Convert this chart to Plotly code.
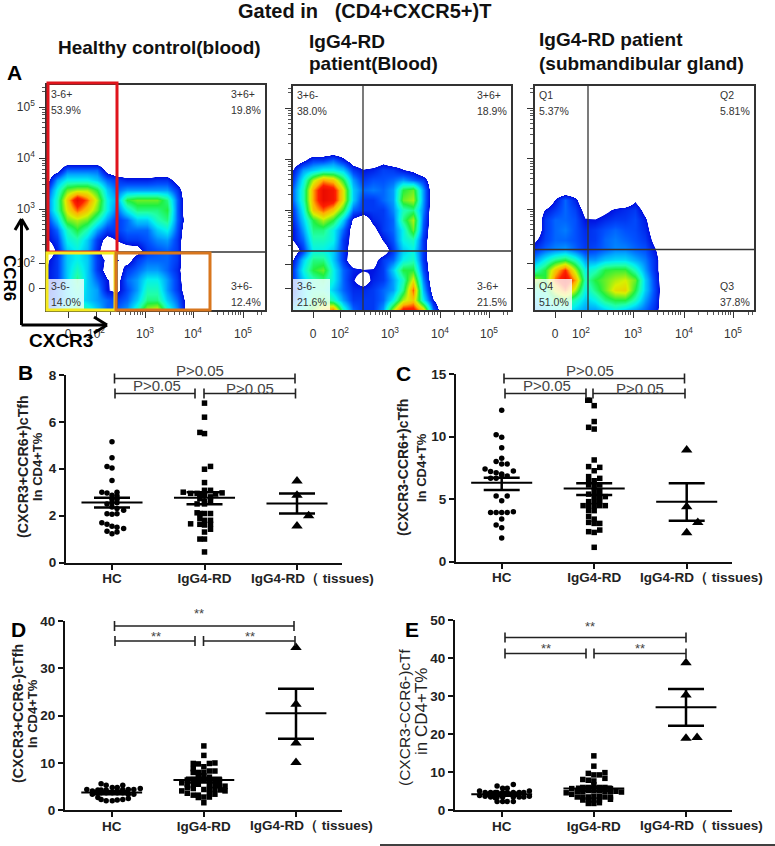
import plotly.graph_objects as go

W, H = 775, 846
FONT = "Liberation Sans"

# ---------- Panel A: density (row 0 = bottom of plot, 10 px cells) ----------
FLOW_A1 = [
 [1.5,2.5,4,5,4,3,2,2,2.5,4,6,6.5,4,2.5,0.5],
 [1.5,2,3,3.5,3,2.5,2,1.5,2,3,4.5,4.5,3,2,0.5],
 [1,2,3,4,3,2.5,1,0.7,1.7,2.5,4,4,2.5,1.5,0.3],
 [1,1.5,3,4.5,3,2,1,0.5,2,2.5,3.5,3.5,2.5,1.5,0],
 [1,1.5,3,4,3,1.5,0.5,0.2,1.5,2,2.5,2.5,2,1.3,0],
 [0.8,1.5,3,3.5,3,1.5,0.7,1,0.5,1.5,2,2,2,1.5,0],
 [0,1.2,3,3.5,2.8,1.3,0,0,0.3,0.5,1.5,1.8,2,1.5,0],
 [0.8,1.5,3.5,4,3,1.5,0.5,1,1.5,1.5,1.8,2.3,2.5,1.5,0],
 [1,2,4,5,4,2.5,1.5,1.5,2,2,2,3,3.5,1.8,0],
 [1.5,3,5.5,6,5.5,4,2.5,1.5,2,3,3,4,4.5,2,0.3],
 [2,4,6.5,8,7,5.5,3.5,2,3.5,4.5,4.5,4.5,5,2,0],
 [2,4,7,9.5,8,6,3.5,2.5,5,5.5,5.5,5.5,4.5,2,0],
 [1.5,3.5,5.5,6,6,5,3,2,2.5,2.5,2.5,2.5,2.5,1.5,0],
 [0.5,2.5,3.5,3.5,3.5,3,2,1.5,1.2,1.2,1.2,1.4,1.4,0.5,0],
 [0,0.5,2,2,2,2,0.5,0,0,0,0,0,0,0,0],
 [0,0,0,0,0,0,0,0,0,0,0,0,0,0,0],
]
FLOW_A2 = [
 [3,4,5.5,7,8,4,2,1.5,1.5,2.5,6,9,9,7,2],
 [2,3,4.5,5,4,2.5,1.5,1.5,1.5,2,3.5,6,7,3.5,1],
 [1.5,3,4,4,3,2,1.3,1.3,1.5,2,2.5,4.5,8,2.8,0.3],
 [1.5,3,4,4.5,3.5,2,1,0.3,1.2,1.5,2.5,4,6.5,2.3,0],
 [1.5,3.5,5,5.5,3.5,2,1.2,1,1,1.5,3,5,5,1.8,0],
 [1,3,4.5,4.5,3,1.5,0,0,0.5,1.5,2,3.5,4,1.5,0],
 [0,1.5,3.5,3.5,3,1.5,0.2,0,0,0.2,1.5,3,3.5,1.5,0],
 [1,2,4,4,3.5,1.5,0.5,0,0,1,1.8,3.5,4,1.5,0],
 [1,2.5,4.5,4.5,3.5,2,0.3,0,0.6,1.5,2,3.5,5.5,1.8,0],
 [1.3,3,5,6,5,3,0.7,0.2,1.2,1.5,2,4.5,6,2,0],
 [1.5,3.5,7,8,7,5,2,1.5,1.5,1.5,2.3,4,4.5,2.3,0],
 [2,4,7.5,9.5,9,6.5,3,1.5,1.5,2,2.5,5.5,6,2.5,0],
 [2,4,7.5,9.5,9,6.5,3,2,2.2,2,2.5,5,5.5,2.5,0],
 [1.5,3.5,6,7.5,7,5,2.5,1.5,1.8,1.8,2,2.5,2,1.5,0],
 [1,2.5,3,3.5,3.5,3,1.5,1,1.2,1.6,1.5,1,0.7,0,0],
 [0,0.7,1.5,1.5,2,1.2,0.3,0,0,0.5,0,0,0,0,0],
 [0,0,0,0,0,0,0,0,0,0,0,0,0,0,0],
]
FLOW_A3 = [
 [2.5,3,3.5,3.5,3,2.5,2.5,3,3.5,3,2.5,2,1.3,0],
 [3,3.5,4.5,5,4,3,3.5,4.5,5,5,4,2.5,1.5,0],
 [4,4,6.5,8,6,3.5,4.5,5.5,6.6,6.8,5,3,1.6,0],
 [6,5,8,9.5,7.5,4,5,5.5,6,6.3,5.5,3,1.5,0],
 [4,5,7,8.5,6,3.5,4,5,5.2,5.2,4,2.5,1.3,0],
 [2.5,3.5,4.5,5,4,2.5,2.5,3,3.2,3.2,2.7,2.2,1.3,0],
 [1.5,2,2.3,2.5,2,1.5,1.7,2,2.3,2.3,2,1.8,1,0],
 [0.8,1.6,2,2,1.8,1.4,1.5,2,2.2,2,1.8,1.5,0.6,0],
 [0,1.5,2,2.2,1.8,1.3,1.5,1.8,2,1.8,1.7,1.3,0.3,0],
 [0,1.5,2,2,1.8,1,1,1.3,1.5,1.5,1.7,1.1,0,0],
 [0,1,1.5,2,1.6,0.6,0.3,0.7,1.1,1.3,1.5,0.6,0,0],
 [0,0,1,2,1.2,0,0,0,0,0,0.8,0,0,0],
 [0,0,0,0,0,0,0,0,0,0,0,0,0,0],
]
FLOW_LABELS_A1 = ["3-6+", "53.9%", "3+6+", "19.8%", "3-6-", "14.0%", "3+6-", "12.4%"]
FLOW_LABELS_A2 = ["3+6-", "38.0%", "3+6+", "18.9%", "3-6-", "21.6%", "3-6+", "21.5%"]
FLOW_LABELS_A3 = ["Q1", "5.37%", "Q2", "5.81%", "Q4", "51.0%", "Q3", "37.8%"]
FLOW_TICK_TEXT = ["0", "10<sup>2</sup>", "10<sup>3</sup>", "10<sup>4</sup>", "10<sup>5</sup>"]

# ---------- Panels B-E ----------
CATEGORIES = ["HC", "IgG4-RD", "IgG4-RD\uff08 tissues)"]

B_HC_X = [1,1,.946,1,1,.89,.946,1.054,1,1.054,1,1.054,.946,1,1.054,1,1.126,1.054,.946,1,1.054,.89,.946,1,1.054,1.126,.946,1.054,1]
B_HC_Y = [5.15,4.47,4.1,4.03,3.5,3.0,2.97,3.0,2.87,2.85,2.7,2.7,2.5,2.55,2.55,2.37,2.23,2.3,2.08,2.06,2.08,1.7,1.63,1.55,1.5,1.45,1.33,1.3,1.23]
B_RD_X = [2,2,1.95,2,2,2.065,2,1.77,1.85,1.92,1.95,2,2.065,2.12,2.19,2,2.065,1.95,2,1.92,2.065,2,1.92,1.95,2,2.065,1.95,2,2.065,1.85,1.95,2,2.065,2.065,2,1.95,2,2]
B_RD_Y = [6.8,6.2,5.55,5.5,3.98,4.1,3.41,3.0,2.95,2.95,2.92,3.08,3.08,2.92,2.97,2.87,2.8,2.73,2.6,2.5,2.6,2.5,2.12,2.09,2.09,2.09,1.88,1.8,1.8,1.65,1.63,1.6,1.63,1.42,1.3,1.0,1.0,0.45]
B_TI_X = [3,3,3.126,3]
B_TI_Y = [3.48,2.87,1.99,1.56]
B_MEAN = [2.56,2.76,2.52]
B_UP = [2.76,3.0,2.94]
B_LO = [2.35,2.49,2.09]

C_HC_X = [1,.94,1,1,1,.94,1,1.06,.82,.88,.94,1,1.126,1,.94,.88,1.06,.94,1.06,1,.88,.94,1,1.06,1.126,1,.94,1,1]
C_HC_Y = [12.1,10.15,9.95,9.1,8.26,8,7.8,7.8,7.4,7.2,7.1,7.0,7.25,6.93,6.66,6.66,6.85,5.25,5.25,4.88,3.94,3.94,3.94,3.94,4.0,3.41,2.93,2.72,1.89]
C_RD_X = [1.93,1.95,2,2,1.94,2,2,1.94,2.06,2,1.94,2.06,2,1.94,1.94,2.06,2,2,2.06,1.94,2.12,2.06,2,1.94,2,2.06,1.88,1.94,2,2.06,2.12,2,1.94,1.94,2,1.94,2,2.06,1.94,2,2.06,2]
C_RD_Y = [12.9,12.9,12.47,11.2,10.74,10.6,8.13,7.6,7.54,7.27,6.8,6.66,6.47,6.4,6.13,6.13,6,5.6,5.6,5.4,5.2,5.2,5.2,4.8,4.8,4.8,4.48,4.48,4.48,4.48,4.48,4.08,4.08,3.6,3.4,3.14,3.06,3.06,2.4,2.34,2.53,1.15]
C_TI_X = [3,3,3.12,3]
C_TI_Y = [8.93,4.4,3.14,2.32]
C_MEAN = [6.3,5.85,4.8]
C_UP = [6.7,6.26,6.26]
C_LO = [5.73,5.33,3.28]

D_HC_X = [.885,.94,1.12,1.006,1.06,.73,.79,.85,.885,.94,1.06,1.12,1.18,1.24,1.31,.79,.85,.885,.94,1.006,1.06,1.12,1.18,1.24,.85,.885,.94,1.006,1.06,1.12,1.18]
D_HC_Y = [5.6,5.3,5.3,4.8,4.8,4.4,4.1,4.3,4.3,4.3,4.1,4.4,4.4,4.4,4.6,3.4,3.6,3.7,3.7,3.7,3.7,3.7,3.4,3.4,2.7,2.3,2,2,2.2,2.3,2.5]
D_RD_X = [2,2,1.885,1.94,2.06,2.12,1.885,2,2.12,1.885,1.94,2,2.06,2,2.06,1.94,1.885,1.82,1.94,2,2.06,2.12,2.17,1.76,1.82,1.885,1.94,2.06,2.12,2.17,2.23,1.76,1.82,1.885,2.12,2.18,2.23,1.82,1.885,1.94,2,2.06,2.12,2,2.06,1.94,2.06,2]
D_RD_Y = [13.6,11.6,9.9,9.8,9.9,10,8.8,9.2,8.3,8,8,8,8.3,7.3,7,7,6.5,6.4,6.4,6.4,6.4,6.4,6.4,5.8,5.5,5.2,5.5,5.5,5.2,5.2,5.1,4.1,4.8,4.6,4.4,4.3,4.1,3.6,3.2,3.2,4.4,4.4,3.4,2.8,2.8,2.7,3.7,1.6]
D_TI_X = [3,3,3,3]
D_TI_Y = [34.4,22.4,14.2,10.1]
D_MEAN = [3.75,6.4,20.5]
D_UP = [4.1,6.9,25.7]
D_LO = [3.4,5.85,15.1]

E_HC_X = [.95,1.01,1.06,1.126,.76,.82,.88,.93,.95,1.01,1.06,1.126,1.19,1.24,1.3,.76,.82,.88,.93,.95,1.01,1.126,1.19,1.24,1.3,.95,1.01,1.06,1.126]
E_HC_Y = [6.4,5.8,5.8,6.8,5.1,4.7,4.7,4.7,4.7,4.7,4.7,4.7,4.7,4.7,5.1,3.9,3.7,3.5,3.3,3.5,3.5,3.5,3.5,3.5,3.7,2.3,2.3,2.3,2.3]
E_RD_X = [2,2,1.94,2,2.06,2.12,1.88,1.94,2,2.12,2,1.88,1.94,2.06,2.12,2.18,1.76,1.7,1.76,1.82,1.88,1.94,2,2.06,2.12,2.18,2.24,2.3,1.82,1.88,1.94,2,2.06,2.12,2.18,1.88,1.94,2,2.06,2.18,1.94,2,2.06]
E_RD_Y = [14.3,11.6,9.7,9.3,9.3,9.9,8.1,7.9,7.7,8.4,6.7,6,6,6,6,5.7,5.7,4.6,4.2,5,5,5.2,5.2,5.2,5,5,5,4.8,3.5,3.5,3.5,3.7,3.7,3.5,3.5,2.7,2.7,2.7,2.7,2.9,1.8,1.8,2]
E_TI_X = [3,3,3,3.12]
E_TI_Y = [38.8,30.3,18.9,19.1]
E_MEAN = [4.2,5.7,27.1]
E_UP = [4.6,6.2,31.9]
E_LO = [3.8,5.1,22.2]

JET = [
 [0,"#ffffff"],[0.09,"#ffffff"],[0.095,"#0010e0"],[0.18,"#0050ff"],[0.26,"#00a8ff"],
 [0.34,"#00f0f0"],[0.42,"#20ffa8"],[0.5,"#20f040"],[0.63,"#d8f000"],[0.74,"#ffb000"],
 [0.85,"#ff2000"],[1,"#e00000"],
]

def px_x(v): return v / W
def px_y(v): return 1 - v / H

fig = go.Figure()
shapes, annotations = [], []

def text(x, y, s, size, bold=False, color="#111111", angle=0, anchor="center"):
    annotations.append(dict(xref="paper", yref="paper", x=px_x(x), y=px_y(y),
        text=f"<b>{s}</b>" if bold else s, showarrow=False, xanchor=anchor, yanchor="middle",
        textangle=angle, font=dict(family=FONT, size=size, color=color)))

def line(x0, y0, x1, y1, color="#000000", width=2):
    shapes.append(dict(type="line", xref="paper", yref="paper", x0=px_x(x0), y0=px_y(y0),
        x1=px_x(x1), y1=px_y(y1), line=dict(color=color, width=width), layer="above"))

def rect(x0, y0, x1, y1, color=None, width=3, fill=None):
    shapes.append(dict(type="rect", xref="paper", yref="paper", x0=px_x(x0), y0=px_y(y0),
        x1=px_x(x1), y1=px_y(y1), line=dict(color=color or "rgba(0,0,0,0)", width=width if color else 0),
        fillcolor=fill or "rgba(0,0,0,0)", layer="above"))

MINOR = [d + m for d in (2, 3, 4) for m in (0.30, 0.48, 0.60, 0.70, 0.78, 0.85, 0.90, 0.95)] + [5.3, 5.38]

def flow(idx, z, box, xt, yt, gate_x, gate_y, labels, ylabels=True):
    l, t, r, b = box
    xa, ya = f"xaxis{idx}", f"yaxis{idx}"
    # xt / yt: pixel positions of 0, 10^2, 10^3, 10^4, 10^5
    dx = (xt[4] - xt[2]) / 2
    dy = (yt[2] - yt[4]) / 2
    to_x = lambda p: (p - xt[2]) / dx + 3
    to_y = lambda p: (yt[2] - p) / dy + 3
    ncol, nrow = len(z[0]) + 1, len(z) + 1
    zz = [row + [0] for row in z] + [[0] * ncol]
    xs = [to_x(l + 10 * i) for i in range(ncol)]
    ys = [to_y(b - 10 * i) for i in range(nrow)]
    fig.add_trace(go.Heatmap(x=xs, y=ys, z=zz, zmin=0, zmax=10, zsmooth="best", colorscale=JET,
                             showscale=False, hoverinfo="skip", xaxis=f"x{idx}", yaxis=f"y{idx}"))
    common = dict(automargin=False, showline=True, mirror=True, linecolor="#333333", linewidth=1.5,
                  showgrid=False, zeroline=False, ticks="outside", ticklen=6, tickcolor="#333333",
                  tickwidth=1.2, tickangle=0,
                  tickfont=dict(family=FONT, size=12, color="#333333"),
                  minor=dict(tickvals=MINOR, ticks="outside", ticklen=3, tickcolor="#555555", tickwidth=1))
    layout[xa] = dict(common, domain=[px_x(l), px_x(r)], range=[to_x(l), to_x(r)], anchor=f"y{idx}",
                      ticklabelstandoff=6, tickvals=[to_x(p) for p in xt], ticktext=FLOW_TICK_TEXT)
    layout[ya] = dict(common, domain=[px_y(b), px_y(t)], range=[to_y(b), to_y(t)], anchor=f"x{idx}",
                      ticklabelstandoff=2, tickvals=[to_y(p) for p in yt], ticktext=FLOW_TICK_TEXT,
                      showticklabels=ylabels)
    rect(l, b - 31, l + 37, b, fill="rgba(255,255,255,0.78)")
    line(l, gate_y, r, gate_y, "#333333", 1.3)
    line(gate_x, t, gate_x, b, "#333333", 1.3)
    lx, rx = l + 2, r - 36
    for lab, x, y in zip(labels, [lx, lx, rx, rx, lx, lx, rx, rx],
                         [t + 9, t + 25, t + 9, t + 25, b - 24, b - 8, b - 24, b - 8]):
        text(x, y, lab, 10.5, color="#333333", anchor="left")

def dots(idx, box, cats, ymax, ydtick, series, mean, up, lo, label3_x, ticks_size=13.5):
    l, t, r, b = box
    c1, c2, c3 = cats
    step = (c3 - c1) / 2
    for (xs, ys), sym, size in zip(series, ["circle", "square", "triangle-up"], [5.5, 5.5, 10]):
        fig.add_trace(go.Scatter(x=xs, y=ys, mode="markers", hoverinfo="skip", cliponaxis=False,
            marker=dict(symbol=sym, size=size, color="#000000"), xaxis=f"x{idx}", yaxis=f"y{idx}"))
    fig.add_trace(go.Scatter(x=[1, 2, 3], y=mean, mode="markers", hoverinfo="skip",
        marker=dict(size=1, color="#000000"),
        error_x=dict(type="constant", value=0.33, width=0, thickness=2, color="#000000"),
        error_y=dict(type="data", symmetric=False,
                     array=[u - m for u, m in zip(up, mean)],
                     arrayminus=[m - d for m, d in zip(mean, lo)],
                     width=18, thickness=2.5, color="#000000"),
        xaxis=f"x{idx}", yaxis=f"y{idx}"))
    common = dict(automargin=False, showline=True, linecolor="#111111", linewidth=2, showgrid=False,
                  zeroline=False, ticks="outside", ticklen=5, tickwidth=2, tickcolor="#111111",
                  tickangle=0, tickfont=dict(family=FONT, size=ticks_size, color="#222222"))
    # the third label sits to the right of its tick, so it is placed on its own
    layout[f"xaxis{idx}"] = dict(common, domain=[px_x(l), px_x(r)], anchor=f"y{idx}",
        range=[1 + (l - c1) / step, 1 + (r - c1) / step], tickvals=[1, 2], ticklabelstandoff=-3,
        ticktext=[f"<b>{c}</b>" for c in CATEGORIES[:2]],
        minor=dict(tickvals=[3], ticks="outside", ticklen=5, tickwidth=2, tickcolor="#111111"))
    layout[f"yaxis{idx}"] = dict(common, domain=[px_y(b), px_y(t)], anchor=f"x{idx}", range=[0, ymax],
        tickvals=list(range(0, ymax + 1, ydtick)),
        ticktext=[f"<b>{v}</b>" for v in range(0, ymax + 1, ydtick)])
    text(label3_x, b + 15.5, CATEGORIES[2], ticks_size, True, "#222222")

def bracket(x0, x1, y, h=5):
    line(x0, y, x1, y, "#222222", 1.6)
    line(x0, y - h, x0, y + h, "#222222", 1.6)
    line(x1, y - h, x1, y + h, "#222222", 1.6)

layout = dict(width=W, height=H, margin=dict(l=0, r=0, t=0, b=0, autoexpand=False), showlegend=False,
              paper_bgcolor="white", plot_bgcolor="white")

flow(1, FLOW_A1, (47, 85, 265, 310), (68, 96, 145, 193, 243), (288, 263, 209, 158, 107), 117, 252, FLOW_LABELS_A1)
flow(2, FLOW_A2, (293, 86, 511, 310), (313, 340, 390, 440, 489), (288, 264, 210, 159, 108), 363, 251, FLOW_LABELS_A2, ylabels=False)
flow(3, FLOW_A3, (535, 86, 754, 310), (555, 581, 633, 684, 733), (288, 263, 209, 158, 108), 588, 249.5, FLOW_LABELS_A3, ylabels=False)

dots(4, (66, 375, 342, 562.5), (112, 204.5, 297), 8, 2,
     [(B_HC_X, B_HC_Y), (B_RD_X, B_RD_Y), (B_TI_X, B_TI_Y)], B_MEAN, B_UP, B_LO, 312)
dots(5, (456, 374, 732, 561.7), (501.7, 594, 686.7), 15, 5,
     [(C_HC_X, C_HC_Y), (C_RD_X, C_RD_Y), (C_TI_X, C_TI_Y)], C_MEAN, C_UP, C_LO, 701.7)
dots(6, (65, 621, 342, 810.3), (111.7, 204, 296), 40, 10,
     [(D_HC_X, D_HC_Y), (D_RD_X, D_RD_Y), (D_TI_X, D_TI_Y)], D_MEAN, D_UP, D_LO, 311)
dots(7, (455, 620, 732, 810.3), (501.7, 594, 686), 50, 10,
     [(E_HC_X, E_HC_Y), (E_RD_X, E_RD_Y), (E_TI_X, E_TI_Y)], E_MEAN, E_UP, E_LO, 701.7)

# coloured gates on the first plot
rect(48, 83, 117, 252, "#e0141c", 3)
rect(47, 253, 115, 310, "#f5ea20", 3)
rect(116, 253, 210, 310, "#d8761e", 3)

# CCR6 / CXCR3 arrows
line(21.5, 325, 21.5, 219, "#000000", 3)
line(21.5, 325, 107, 325, "#000000", 3)
line(15, 230, 21.5, 219, "#000000", 3)
line(28, 230, 21.5, 219, "#000000", 3)
line(94, 317, 107, 325, "#000000", 3)
line(94, 333, 107, 325, "#000000", 3)
text(9, 278, "CCR6", 17, True, "#000000", angle=90)
text(61, 340, "CXCR3", 19, True, "#000000")

# titles
text(364, 11, "Gated in&nbsp;&nbsp;&nbsp;(CD4+CXCR5+)T", 20, True)
text(56, 48, "Healthy control(blood)", 19, True, anchor="left")
text(307, 41, "IgG4-RD", 19, True, anchor="left")
text(307, 63, "patient(Blood)", 19, True, anchor="left")
text(537, 40, "IgG4-RD patient", 19, True, anchor="left")
text(537, 63, "(submandibular gland)", 19, True, anchor="left")

for s, x, y in [("A", 14, 72), ("B", 25, 372), ("C", 403, 373), ("D", 18, 629), ("E", 412, 629)]:
    text(x, y, s, 21, True, "#000000")

# y titles
text(23, 467, "(CXCR3+CCR6+)cTfh", 14.2, True, "#222222", angle=-90)
text(38, 467, "In CD4+T%", 13, True, "#222222", angle=-90)
text(403, 468, "(CXCR3-CCR6+)cTfh", 14, True, "#222222", angle=-90)
text(421, 468, "In CD4+T%", 13, True, "#222222", angle=-90)
text(18, 714, "(CXCR3+CCR6-)cTfh", 14.2, True, "#222222", angle=-90)
text(32, 714, "In CD4+T%", 13, True, "#222222", angle=-90)
text(404, 717, "(CXCR3-CCR6-)cTf", 15.5, False, "#222222", angle=-90)
text(421, 712, "in CD4+T%", 17, False, "#222222", angle=-90)

# significance brackets
bracket(114.5, 295, 378.5); bracket(115, 195, 393.5); bracket(204, 295.5, 393.5)
text(200, 370, "P&gt;0.05", 15, color="#444444")
text(157, 385, "P&gt;0.05", 15, color="#444444")
text(250, 388, "P&gt;0.05", 15, color="#444444")
bracket(504, 684.5, 378.5); bracket(505, 586, 393.5); bracket(593, 685, 393.5)
text(590, 370, "P&gt;0.05", 15, color="#444444")
text(547, 385, "P&gt;0.05", 15, color="#444444")
text(640, 388, "P&gt;0.05", 15, color="#444444")
bracket(114.5, 294, 626); bracket(115, 195, 641); bracket(203.5, 295, 641)
text(199, 613, "**", 13, color="#444444")
text(156, 636, "**", 13, color="#444444")
text(250, 636, "**", 13, color="#444444")
bracket(505, 686, 637.5); bracket(505, 586, 653.5); bracket(594, 686, 653.5)
text(590, 626, "**", 13, color="#444444")
text(546, 648, "**", 13, color="#444444")
text(640, 648, "**", 13, color="#444444")

# stray rule at the foot of the page
line(380, 845, 775, 845, "#000000", 1.5)

layout["shapes"] = shapes
layout["annotations"] = annotations
fig.update_layout(**layout)
fig.write_html("out.html", post_script="document.body.style.margin='0';",
               config=dict(displayModeBar=False))
